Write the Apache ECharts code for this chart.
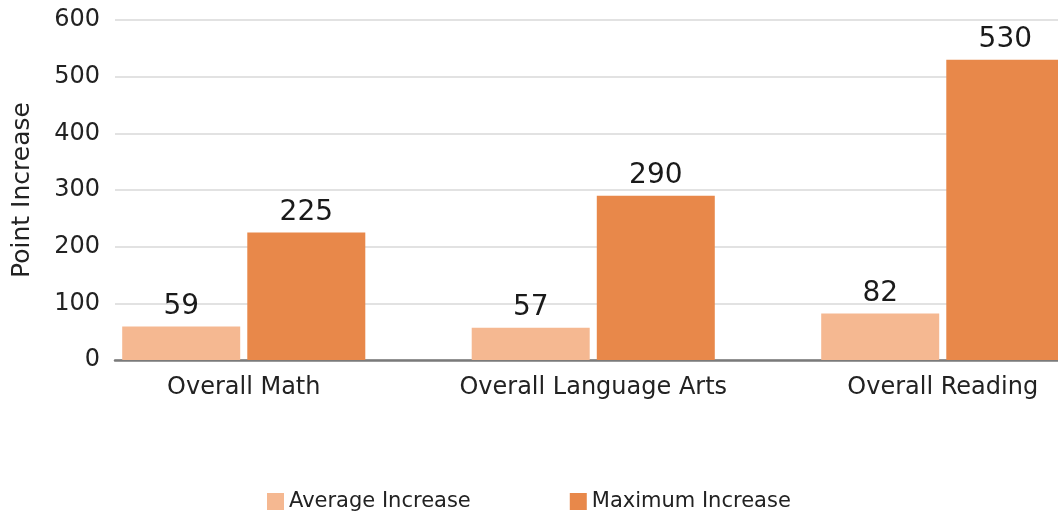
<!DOCTYPE html>
<html><head><meta charset="utf-8">
<script src="https://cdn.jsdelivr.net/npm/echarts@6/dist/echarts.min.js"></script>
<style>html,body{margin:0;padding:0;background:#fff}#c{width:1058px;height:514px}</style>
</head><body><div id="c"></div>
<script>
const categories = ["Overall Math", "Overall Language Arts", "Overall Reading"];
const averageIncrease = [59, 57, 82];
const maximumIncrease = [225, 290, 530];
const yTicks = [0, 100, 200, 300, 400, 500, 600];
const seriesNames = ["Average Increase", "Maximum Increase"];

const FONT = "DejaVu Sans";
const chart = echarts.init(document.getElementById('c'));
chart.setOption({
  animation: false,
  textStyle: { fontFamily: FONT },
  legend: {
    top: 486, left: 262, itemWidth: 17, itemHeight: 17, itemGap: 99,
    icon: 'rect',
    textStyle: { fontSize: 21, color: '#222', fontFamily: FONT },
    data: seriesNames
  },
  grid: [
    { left: 115, right: 0, top: 20, bottom: 154, outerBoundsMode: 'none', containLabel: false },
    { left: 69, width: 1048.5, top: 20, bottom: 154, outerBoundsMode: 'none', containLabel: false }
  ],
  xAxis: [
    { gridIndex: 0, type: 'category', data: categories, axisLabel: { show: false }, axisTick: { show: false },
      axisLine: { lineStyle: { color: '#7a7a7a', width: 2.5 } } },
    { gridIndex: 1, type: 'category', data: categories, axisTick: { show: false }, axisLine: { show: false },
      axisLabel: { interval: 0, fontSize: 24, color: '#222', margin: 16, fontFamily: FONT } }
  ],
  yAxis: [
    { gridIndex: 0, type: 'value', min: yTicks[0], max: yTicks[yTicks.length - 1], interval: 100,
      name: 'Point Increase', nameLocation: 'middle', nameGap: 80, nameRotate: 90,
      nameTextStyle: { fontSize: 25, color: '#222', fontFamily: FONT },
      axisLabel: { fontSize: 24, color: '#222', margin: 15, fontFamily: FONT },
      splitLine: { lineStyle: { color: '#e2e2e2', width: 2 } },
      axisLine: { show: false }, axisTick: { show: false } },
    { gridIndex: 1, type: 'value', min: 0, max: 600, interval: 100, show: false, splitLine: { show: false } }
  ],
  series: [
    { name: seriesNames[0], type: 'bar', xAxisIndex: 1, yAxisIndex: 1, data: averageIncrease,
      barWidth: 118, barGap: '6%', itemStyle: { color: '#F5B891' },
      label: { show: true, position: 'top', fontSize: 28, color: '#1a1a1a', distance: 6, fontFamily: FONT } },
    { name: seriesNames[1], type: 'bar', xAxisIndex: 1, yAxisIndex: 1, data: maximumIncrease,
      barWidth: 118, barGap: '6%', itemStyle: { color: '#E8884A' },
      label: { show: true, position: 'top', fontSize: 28, color: '#1a1a1a', distance: 6, fontFamily: FONT } }
  ]
});
</script></body></html>
